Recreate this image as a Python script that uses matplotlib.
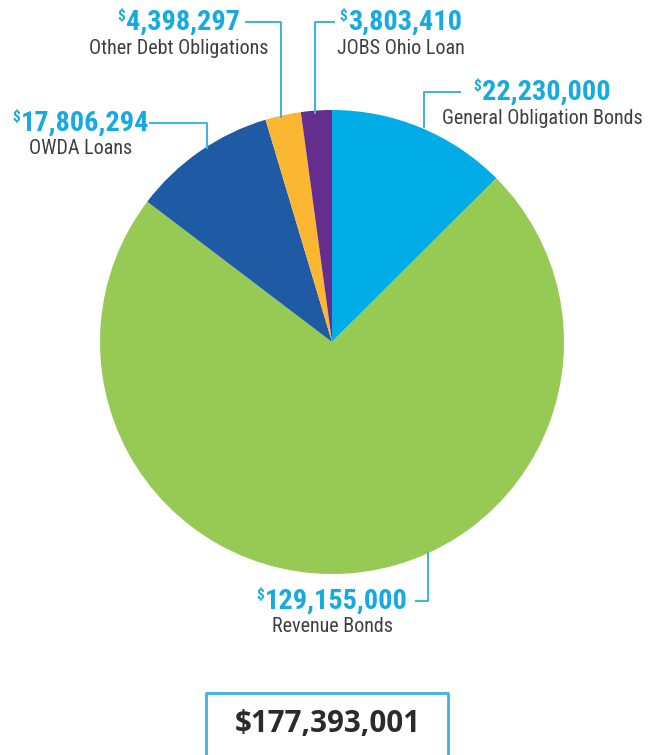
import matplotlib
matplotlib.use('Agg')
import matplotlib.pyplot as plt

categories = ['General Obligation Bonds', 'Revenue Bonds', 'OWDA Loans',
              'Other Debt Obligations', 'JOBS Ohio Loan']
values = [22230000, 129155000, 17806294, 4398297, 3803410]
value_labels = ['22,230,000', '129,155,000', '17,806,294', '4,398,297', '3,803,410']
total_label = '$177,393,001'
colors = ['#00ADE7', '#97CA55', '#1F5BA5', '#FBB632', '#652D8E']

blue_txt = '#17A9E1'
gray_txt = '#3F3F3F'
line_col = '#3BB3E4'
narrow = ['Roboto Condensed', 'Roboto', 'DejaVu Sans']

fig = plt.figure(figsize=(6.58, 7.55), dpi=100)
ax = fig.add_axes([0, 0, 1, 1])
# y axis runs downward (pixel style), so start at -90 and go "counterclock" to look clockwise
ax.pie(values, colors=colors, startangle=-90, counterclock=True,
       center=(332, 342), radius=232, frame=True)
ax.set_xlim(0, 658)
ax.set_ylim(755, 0)
ax.set_aspect('equal')
ax.axis('off')

# label column centres and rows (pixels)
label_pos = [(542, 92), (332, 601), (81, 123), (179, 22), (401, 22)]

fig.canvas.draw()
renderer = fig.canvas.get_renderer()
inv = ax.transData.inverted()
for (cx, cy), val, cat in zip(label_pos, value_labels, categories):
    t = ax.text(cx, cy, val, ha='center', va='center', fontsize=20.3,
                fontweight='bold', color=blue_txt, family=narrow)
    bb = t.get_window_extent(renderer)
    x0 = inv.transform((bb.x0, bb.y0))[0]
    d = ax.text(x0 - 1, cy - 6, '$', ha='right', va='center', fontsize=11,
                fontweight='bold', color=blue_txt, family=narrow)
    # shift both so that "$" + number is centred
    dw = inv.transform((d.get_window_extent(renderer).x0, 0))[0]
    shift = (x0 - dw) / 2
    t.set_x(cx + shift)
    d.set_x(x0 - 1 + shift)
    ax.text(cx, cy + 26, cat, ha='center', va='center', fontsize=14.5,
            color=gray_txt, family=narrow)

# leader lines
lw = 1.4
ax.plot([460, 424, 424], [92, 92, 127], color=line_col, lw=lw)
ax.plot([416, 428, 428], [601, 601, 553], color=line_col, lw=lw)
ax.plot([150, 207, 207], [123, 123, 148], color=line_col, lw=lw)
ax.plot([246, 281, 281], [22, 22, 117], color=line_col, lw=lw)
ax.plot([334, 315, 315], [22, 22, 113], color=line_col, lw=lw)

# total box (open at the bottom)
ax.plot([206, 206, 448, 448], [760, 693, 693, 760], color=line_col, lw=2,
        clip_on=False)
ax.text(328, 724, total_label, ha='center', va='center', fontsize=21.3,
        fontweight='bold', color='#2B2B2B', family=['Open Sans', 'DejaVu Sans'])

fig.savefig('out.png', dpi=100)
